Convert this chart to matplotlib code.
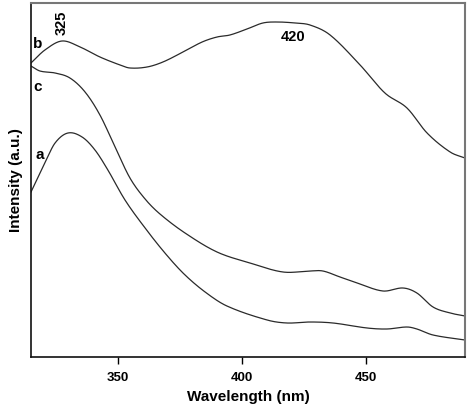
import numpy as np
import matplotlib
matplotlib.use("Agg")
import matplotlib.pyplot as plt

plt.rcParams['font.family'] = ['Liberation Sans', 'DejaVu Sans']

# Read-off data (wavelength nm, intensity a.u.)
wl_b = [315.0, 320.6, 327.5, 334.8, 342.8, 350.9, 354.9, 361.8, 368.2, 376.3, 384.0, 390.0,
        395.2, 402.1, 408.5, 414.2, 421.5, 427.5, 435.6, 447.7, 457.7, 466.6, 474.7, 484.0, 490.0]
int_b = [294, 307, 316, 310, 300, 292, 289, 290, 295, 305, 315, 320,
         322, 328, 334, 335, 334, 332, 322, 292, 264, 249, 224, 205, 199]

wl_c = [315.0, 318.6, 324.7, 330.7, 336.8, 342.8, 348.9, 354.9, 361.0, 367.0, 377.1, 390.0,
        403.3, 416.6, 427.5, 432.7, 439.6, 446.5, 456.9, 465.0, 470.6, 477.1, 484.0, 490.0]
int_c = [291, 286, 284, 279, 265, 242, 210, 179, 158, 143, 124, 105,
         94, 85, 86, 86, 80, 74, 66, 69, 64, 50, 44, 41]

wl_a = [315.0, 320.6, 324.7, 329.9, 335.6, 340.8, 346.0, 352.9, 361.0, 369.0, 376.7, 385.2,
        394.0, 410.2, 418.2, 427.5, 436.8, 450.5, 458.5, 466.6, 470.6, 477.1, 490.0]
int_a = [165, 194, 214, 224, 220, 207, 187, 157, 129, 104, 83, 65,
         51, 37, 34, 35, 34, 29, 28, 30, 28, 22, 17]

x_ticks = [350, 400, 450]


def smooth(x, y, n=24):
    """Cubic Hermite drawing through the points, tangents from neighbours."""
    x = np.asarray(x, float); y = np.asarray(y, float)
    m = np.empty_like(y)
    m[1:-1] = (y[2:] - y[:-2]) / (x[2:] - x[:-2])
    m[0] = (y[1] - y[0]) / (x[1] - x[0])
    m[-1] = (y[-1] - y[-2]) / (x[-1] - x[-2])
    xs, ys = [], []
    for i in range(len(x) - 1):
        h = x[i + 1] - x[i]
        t = np.linspace(0, 1, n, endpoint=False)
        h00 = 2 * t**3 - 3 * t**2 + 1
        h10 = t**3 - 2 * t**2 + t
        h01 = -2 * t**3 + 3 * t**2
        h11 = t**3 - t**2
        xs.append(x[i] + t * h)
        ys.append(h00 * y[i] + h10 * h * m[i] + h01 * y[i + 1] + h11 * h * m[i + 1])
    xs.append([x[-1]]); ys.append([y[-1]])
    return np.concatenate(xs), np.concatenate(ys)


fig = plt.figure(figsize=(4.69, 4.08), dpi=100)
ax = fig.add_axes([31 / 469, 51 / 408, 434 / 469, 354 / 408])

for wx, iy in [(wl_a, int_a), (wl_b, int_b), (wl_c, int_c)]:
    sx, sy = smooth(wx, iy)
    ax.plot(sx, sy, color='#2a2a2a', lw=0.9)

ax.set_xlim(315, 490)
ax.set_ylim(0, 354)
ax.set_xticks(x_ticks)
ax.set_yticks([])
ax.tick_params(axis='x', direction='out', length=5, width=1, labelsize=9.5, pad=6)
for lab in ax.get_xticklabels():
    lab.set_fontweight('bold')
for s in ['left', 'bottom']:
    ax.spines[s].set_linewidth(1.2)
    ax.spines[s].set_color('#111111')
for s in ['top', 'right']:
    ax.spines[s].set_linewidth(1.5)
    ax.spines[s].set_color('#777777')

ax.set_xlabel('Wavelength (nm)', fontsize=11, fontweight='bold', labelpad=4)
ax.set_ylabel('Intensity (a.u.)', fontsize=11, fontweight='bold', labelpad=6)

ax.text(327.5, 334, '325', rotation=90, ha='center', va='center', fontsize=10.5, fontweight='bold')
ax.text(420.5, 320, '420', ha='center', va='center', fontsize=10.5, fontweight='bold')
ax.text(317.5, 313, 'b', ha='center', va='center', fontsize=11, fontweight='bold')
ax.text(317.5, 270, 'c', ha='center', va='center', fontsize=11, fontweight='bold')
ax.text(318.5, 202, 'a', ha='center', va='center', fontsize=11, fontweight='bold')

fig.savefig('out.png', dpi=100)
